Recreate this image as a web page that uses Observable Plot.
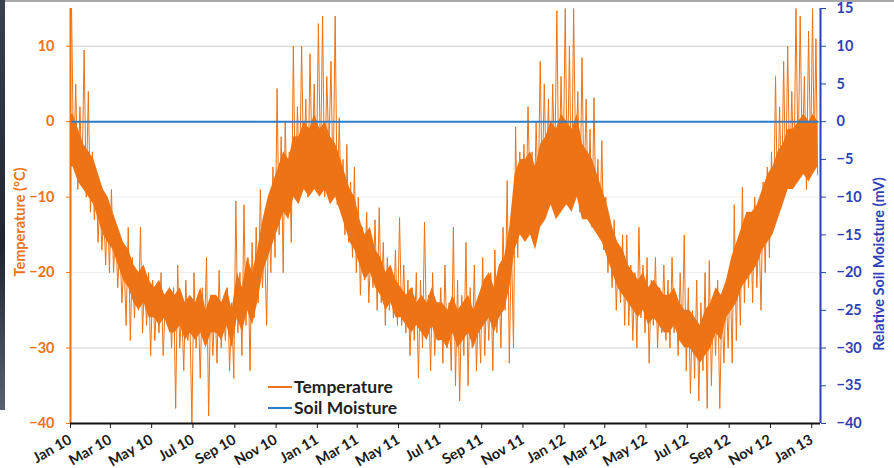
<!DOCTYPE html>
<html><head><meta charset="utf-8">
<script src="https://cdn.jsdelivr.net/npm/d3@7"></script>
<script src="https://cdn.jsdelivr.net/npm/@observablehq/plot@0.6"></script>
<style>
body{margin:0;background:#fff;}
#wrap{position:relative;width:894px;height:468px;overflow:hidden;font-family:Lato, "Open Sans", sans-serif;background:#fff;}
#wrap svg{position:absolute;left:0;top:0;}
.edge-left{position:absolute;left:0;top:0;width:5px;height:410px;background:linear-gradient(#3a4050,#1e2533 60%,#5a6070);}
.edge-top{position:absolute;left:0;top:0;width:894px;height:2px;background:#a8a8a8;}
.title{position:absolute;font-weight:700;white-space:nowrap;transform:translate(-50%,-50%) rotate(-90deg);}
.leg{position:absolute;font-weight:700;font-size:17.5px;color:#1f1f1f;display:flex;align-items:center;white-space:nowrap;line-height:1;}
.sw{display:inline-block;width:24px;height:2px;margin-right:2px;}
</style></head>
<body><div id="wrap">
<div class="edge-top"></div>
<div class="edge-left"></div>
</div>
<script>
// Temperature (°C): 10 readings per month, alternating highs and lows (spikes)
const temp2010 = [
  15, -6, 5, -9, 2, -8, 9.5, -10, 4, -12,
  -4, -13, -8, -16, -10, -17, -12, -19, -11, -20,
  -9, -20, -14, -22, -16, -24, -18, -27, -14, -29,
  -18, -26, -20, -25, -14, -28, -21, -27, -20, -31,
  -21, -29, -23, -28, -20, -31, -24, -27, -22, -30,
  -22, -38, -19, -30, -25, -33, -21, -29, -26, -40,
  -20, -30, -24, -34, -22, -28, -18, -39, -23, -31,
  -24, -32, -19.7, -30, -25, -29, -22, -33, -24, -34,
  -10.5, -28, -20, -31, -11, -27, -18, -33, -16, -26,
  -14, -24, -9, -22, -16, -27, -12, -20, -6, -18,
  4.4, -15, -2, -20, 0, -12, -4, -16, 10, -10,
  2, -9, 10, -7, 3, -10, 9, -6, 5, -8
];
const temp2011 = [
  13, -6, 14, -10, 6, -4, 8, -9, 14, -11,
  0.5, -12, -5, -15, -3, -16, -8, -18, -6, -20,
  -10, -23, -14, -21, -12, -24, -17, -22, -13, -25,
  -11.4, -24, -16, -27, -18, -25, -20, -26, -17, -27,
  -12.7, -27, -19, -28, -21, -31, -22, -29, -20, -34,
  -21, -30, -13.3, -28, -23, -33, -20, -31, -24, -29,
  -22, -32, -19, -30, -24, -33, -14, -35, -21, -37,
  -23, -31, -16, -35, -22, -30, -19, -33, -24, -32,
  -18, -31, -22, -29, -20, -33, -17, -28, -21, -30,
  -14, -25, -7.8, -32, -16, -30, -0.7, -18, -4, -13,
  -3, -13, 2, -10, -4, -14, 0, -11, 8, -9,
  5, -8, 3, -11, 5, -6, 14.7, -9, 6, -7
];
const temp2012 = [
  15, -8, 10, -11, 15, -6, 4, -12, 8.5, -10,
  3, -11, -1, -14, 3.2, -13, -5, -15, -2.5, -17,
  -10, -20, -15, -22, -13, -25, -17, -24, -15, -27,
  -15, -27, -19, -29, -20, -30, -14, -26, -19, -28,
  -18, -32, -21, -27, -18, -30, -22, -28, -19, -29,
  -21, -30, -18, -28, -23, -31, -20, -29, -15, -33,
  -22, -36, -25, -34, -21, -37, -24, -33, -20, -38,
  -18.4, -35, -23, -31, -21, -38, -24, -32, -22, -30,
  -20, -32, -11, -29, -17, -27, -8.7, -24, -14, -22,
  -12, -24, -10, -22, -14, -25, -8, -20, -6, -18,
  -4, -14, 6, -12, 2, -10, 8, -9, 10, -8,
  4, -8, 15, -6, 14, -5, 6, -9, 12, -5
];
const temp2013Jan = [15, -4, 11, -7]; // first ten days of Jan 2013

// Dense band of daily temperature (°C), four per month (weekly): low and high
const coreLow2010 = [
  -6,-8,-9,-10, -11,-13,-15,-16, -17,-19,-21,-22, -24,-25,-24,-26,
  -26,-27,-26,-28, -28,-27,-29,-28, -29,-28,-30,-28, -28,-29,-27,-30,
  -26,-28,-25,-27, -24,-20,-18,-16, -14,-12,-13,-10, -11,-9,-10,-9];
const coreHigh2010 = [
  1,-1,-3,-4, -5,-7,-9,-10, -12,-14,-16,-17, -19,-20,-19,-21,
  -22,-21,-23,-22, -23,-22,-24,-23, -24,-22,-25,-23, -23,-24,-22,-25,
  -20,-22,-18,-20, -17,-13,-10,-8, -6,-4,-5,-2, -2,0,-1,1];
const coreLow2011 = [
  -10,-9,-11,-10, -12,-14,-16,-17, -19,-21,-20,-22, -23,-25,-24,-26,
  -26,-27,-28,-27, -28,-29,-27,-29, -29,-30,-28,-30, -29,-28,-30,-28,
  -27,-26,-28,-26, -25,-22,-17,-15, -16,-15,-17,-14, -13,-11,-13,-12];
const coreHigh2011 = [
  -1,0,-2,-3, -5,-7,-9,-10, -13,-15,-14,-17, -18,-20,-19,-21,
  -22,-23,-22,-24, -23,-24,-22,-24, -24,-25,-23,-25, -24,-23,-25,-23,
  -21,-20,-22,-19, -18,-14,-7,-5, -5,-4,-6,-3, -2,0,-1,1];
const coreLow2012 = [
  -11,-12,-10,-13, -13,-14,-15,-16, -18,-20,-22,-23, -24,-25,-26,-25,
  -27,-26,-27,-28, -28,-27,-29,-30, -30,-31,-32,-31, -30,-28,-29,-26,
  -25,-24,-22,-21, -20,-19,-17,-16, -15,-13,-11,-9, -9,-8,-7,-8];
const coreHigh2012 = [
  0,-1,1,-3, -4,-5,-7,-9, -11,-14,-16,-17, -19,-20,-21,-20,
  -22,-21,-22,-23, -23,-22,-24,-25, -25,-26,-27,-25, -24,-22,-23,-21,
  -18,-16,-14,-12, -12,-11,-9,-7, -6,-4,-3,-1, -1,0,1,0];
const coreLowJan2013 = [-7, -6];
const coreHighJan2013 = [1, 0];

// Relative soil moisture (mV)
const soilDates = ["2010-01-01", "2013-01-10"];
const soilValues = [0, 0];

const xTicks = ["2010-01-01","2010-03-01","2010-05-01","2010-07-01","2010-09-01","2010-11-01",
  "2011-01-01","2011-03-01","2011-05-01","2011-07-01","2011-09-01","2011-11-01",
  "2012-01-01","2012-03-01","2012-05-01","2012-07-01","2012-09-01","2012-11-01","2013-01-01"];
const leftTicks = [-40, -30, -20, -10, 0, 10];
const rightTicks = [-40, -35, -30, -25, -20, -15, -10, -5, 0, 5, 10, 15];

const ORANGE = "#ED7314", BLUE_LINE = "#2E7CC8", BLUE_AXIS = "#2F3FB5";
const DAY = 864e5;

const temp = [];
function addYear(year, vals) {
  for (let m = 0; m < 12; m++) {
    const s = Date.UTC(year, m, 1), e = Date.UTC(year, m + 1, 1);
    for (let i = 0; i < 10; i++) temp.push({date: new Date(s + (i + 0.5) / 10 * (e - s)), t: vals[m * 10 + i]});
  }
}
addYear(2010, temp2010); addYear(2011, temp2011); addYear(2012, temp2012);
temp2013Jan.forEach((v, i) => temp.push({date: new Date(Date.UTC(2013, 0, 1) + (i + 0.5) * 2.5 * DAY), t: v}));

const core = [];
function addCore(year, lo, hi) {
  for (let k = 0; k < 48; k++) {
    const m = Math.floor(k / 4), s = Date.UTC(year, m, 1), e = Date.UTC(year, m + 1, 1);
    core.push({date: new Date(s + ((k % 4) + 0.5) / 4 * (e - s)), lo: lo[k], hi: hi[k]});
  }
}
core.push({date: new Date(Date.UTC(2010, 0, 1)), lo: coreLow2010[0], hi: coreHigh2010[0]});
addCore(2010, coreLow2010, coreHigh2010); addCore(2011, coreLow2011, coreHigh2011); addCore(2012, coreLow2012, coreHigh2012);
coreLowJan2013.forEach((v, i) => core.push({date: new Date(Date.UTC(2013, 0, 1) + (2 + i * 7) * DAY), lo: v, hi: coreHighJan2013[i]}));

const soil = soilDates.map((d, i) => ({date: new Date(d), v: soilValues[i]}));
const xDomain = [new Date(Date.UTC(2010, 0, 1)), new Date(Date.UTC(2013, 0, 14))];

const chart = Plot.plot({
  width: 894, height: 468,
  marginLeft: 70, marginRight: 74, marginTop: 8, marginBottom: 45,
  style: {fontFamily: "Lato, 'Open Sans', sans-serif", fontWeight: "700", background: "transparent", overflow: "visible"},
  x: {type: "utc", domain: xDomain},
  y: {domain: [-40, 15]},
  marks: [
    Plot.gridY([10, -30], {stroke: "#cfcfcf", strokeOpacity: 1}),
    Plot.gridY([-10, -20], {stroke: "#efefef", strokeOpacity: 1}),
    Plot.areaY(core, {x: "date", y1: "lo", y2: "hi", fill: ORANGE}),
    Plot.lineY(temp, {x: "date", y: "t", stroke: ORANGE, strokeWidth: 1}),
    Plot.lineY(soil, {x: "date", y: "v", stroke: BLUE_LINE, strokeWidth: 2}),
    Plot.ruleX([xDomain[0]], {stroke: ORANGE, strokeWidth: 2}),
    Plot.ruleX([xDomain[1]], {stroke: BLUE_AXIS, strokeWidth: 2}),
    Plot.ruleY([-40], {stroke: "#111", strokeWidth: 2}),
    Plot.axisY(leftTicks, {anchor: "left", color: ORANGE, fontSize: 14.5, tickSize: 4, tickPadding: 12, label: null}),
    Plot.axisY(rightTicks, {anchor: "right", color: BLUE_AXIS, fontSize: 14.5, tickSize: 5, tickPadding: 11, label: null}),
    Plot.axisX(xTicks.map(d => new Date(d)), {anchor: "bottom", color: "#1a1a1a", fontSize: 14.5, tickSize: 5, tickPadding: 10,
      tickRotate: -30, tickFormat: d3.utcFormat("%b %y"), label: null})
  ]
});
const wrap = document.getElementById("wrap");
wrap.appendChild(chart);

function addDiv(html, cls, css) { const d = document.createElement("div"); d.className = cls; d.innerHTML = html; Object.assign(d.style, css); wrap.appendChild(d); }
addDiv("Temperature (°C)", "title", {left: "19px", top: "222px", color: ORANGE, fontSize: "14.5px"});
addDiv("Relative Soil Moisture (mV)", "title", {left: "878px", top: "264px", color: BLUE_AXIS, fontSize: "14.5px"});
addDiv('<span class="sw" style="background:' + ORANGE + '"></span>Temperature', "leg", {left: "268px", top: "378px"});
addDiv('<span class="sw" style="background:' + BLUE_LINE + '"></span>Soil Moisture', "leg", {left: "268px", top: "399px"});
</script>
</body></html>
